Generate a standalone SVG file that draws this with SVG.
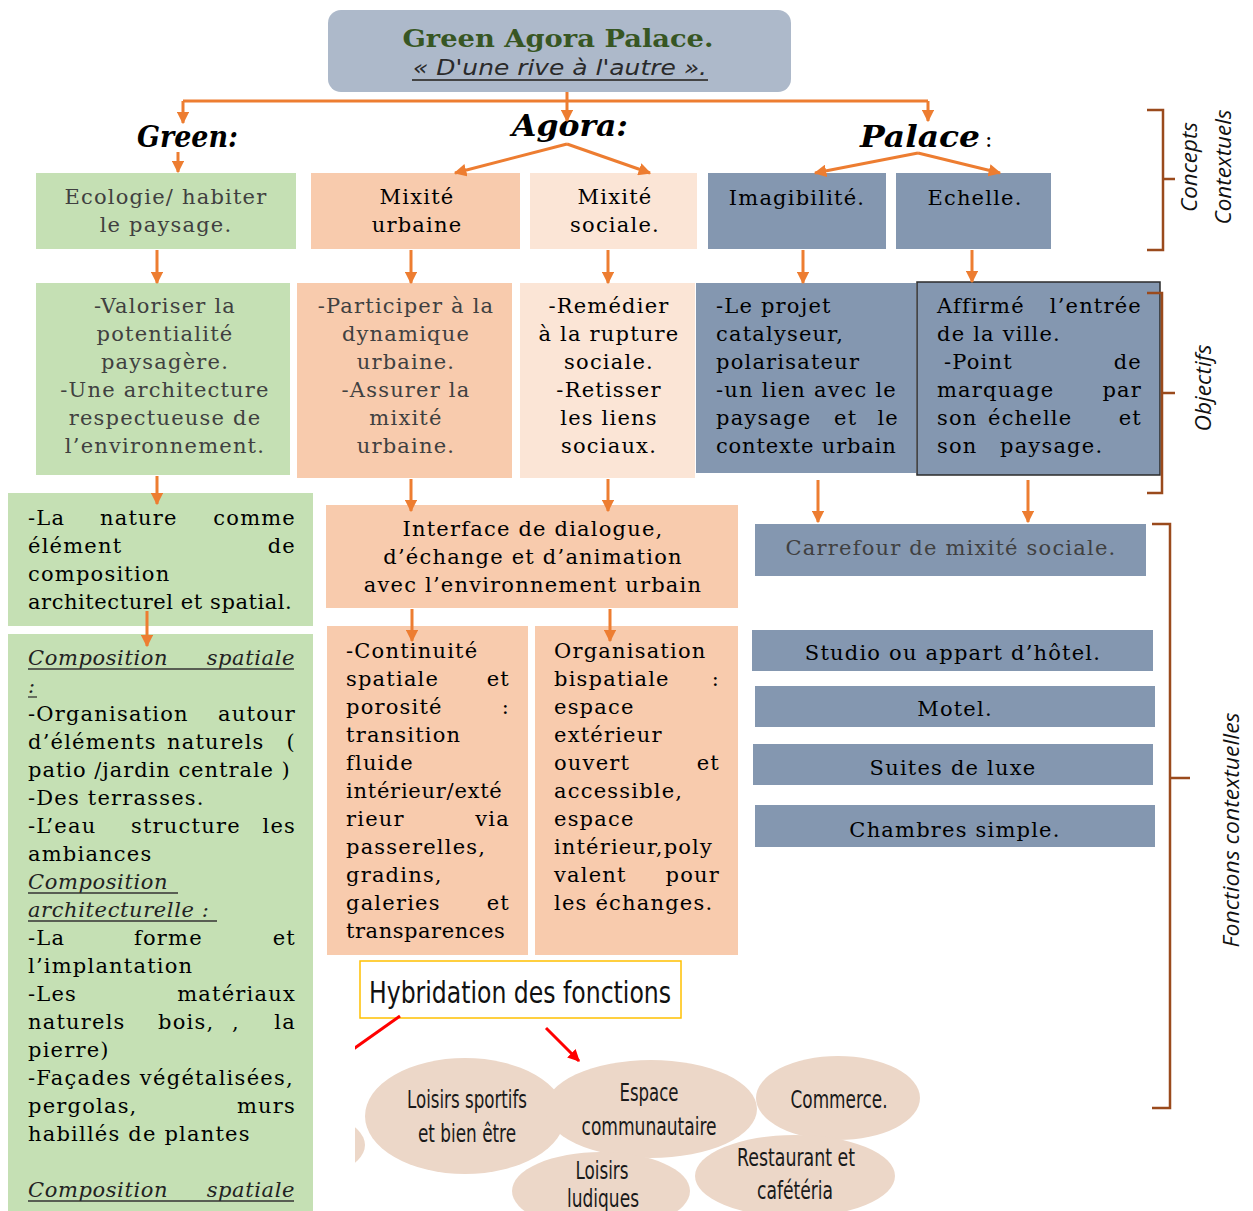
<svg xmlns="http://www.w3.org/2000/svg" width="1253" height="1211" viewBox="0 0 1253 1211">
  <defs>
    <marker id="ah" viewBox="0 0 10 10" refX="9" refY="5" markerWidth="4.2" markerHeight="4.2" orient="auto" markerUnits="strokeWidth">
      <path d="M0,0 L10,5 L0,10 z" fill="#ed7d31"/>
    </marker>
    <marker id="ahr" viewBox="0 0 10 10" refX="9" refY="5" markerWidth="4" markerHeight="4" orient="auto" markerUnits="strokeWidth">
      <path d="M0,0 L10,5 L0,10 z" fill="#ff0000"/>
    </marker>
    <clipPath id="cut">
      <rect x="355" y="950" width="900" height="261"/>
    </clipPath>
  </defs>
  <style>
    .t { font-family: "DejaVu Serif", serif; font-size: 21px; letter-spacing: 1.2px; fill: #000; }
    .gr { fill: #404040; }
    .c { text-anchor: middle; }
    .e { text-anchor: end; }
    .it { font-style: italic; letter-spacing: 0.6px; fill: #222; }
    .ul { stroke: #333; stroke-width: 1.3; }
    .green { fill: #c5e0b4; }
    .peach { fill: #f8cbad; }
    .pale { fill: #fbe5d6; }
    .slate { fill: #8497b0; }
    .conn { stroke: #ed7d31; stroke-width: 3; fill: none; }
    .br { stroke: #9a4a1c; stroke-width: 2.5; fill: none; }
    .side { font-family: "Open Sans", "Noto Sans", sans-serif; font-style: italic; font-size: 22px; fill: #111; }
    .head { font-family: "DejaVu Serif", serif; font-weight: bold; font-style: italic; font-size: 30px; fill: #000; }
    .ell { fill: #ecd7c8; }
    .et { font-family: "DejaVu Sans Condensed", "DejaVu Sans", sans-serif; font-size: 24px; fill: #1a1a1a; text-anchor: middle; }
  </style>

  <!-- title -->
  <g id="title">
    <rect x="328" y="10" width="463" height="82" rx="13" fill="#adb9ca"/>
    <text x="558" y="47" text-anchor="middle" font-family="DejaVu Serif, serif" font-weight="bold" font-size="25" fill="#375623" textLength="311" lengthAdjust="spacingAndGlyphs">Green Agora Palace.</text>
    <text x="560" y="75" text-anchor="middle" font-family="DejaVu Sans, sans-serif" font-style="italic" font-size="21" fill="#2a2a2a" textLength="294" lengthAdjust="spacingAndGlyphs">« D'une rive à l'autre ».</text>
    <line x1="412" y1="80" x2="708" y2="80" stroke="#444" stroke-width="2"/>
  </g>

  <!-- theme headings -->
  <g id="head-green"><text class="head" x="137" y="147" textLength="101" lengthAdjust="spacingAndGlyphs">Green:</text></g>
  <g id="head-agora"><text class="head" x="512" y="136" textLength="116" lengthAdjust="spacingAndGlyphs">Agora:</text></g>
  <g id="head-palace">
    <text class="head" x="860" y="147" textLength="120" lengthAdjust="spacingAndGlyphs">Palace</text>
    <text x="985" y="147" font-family="DejaVu Serif, serif" font-size="22" fill="#000">:</text>
  </g>

  <!-- concepts row -->
  <g id="ecologie">
    <rect class="green" x="36" y="173" width="260" height="76"/>
    <text class="t gr c" x="166" y="204">Ecologie/ habiter</text>
    <text class="t gr c" x="166" y="232">le paysage.</text>
  </g>
  <g id="mixite-urbaine">
    <rect class="peach" x="311" y="173" width="209" height="76"/>
    <text class="t c" x="417" y="204">Mixité</text>
    <text class="t c" x="417" y="232">urbaine</text>
  </g>
  <g id="mixite-sociale">
    <rect class="pale" x="530" y="173" width="167" height="76"/>
    <text class="t c" x="615" y="204">Mixité</text>
    <text class="t c" x="615" y="232">sociale.</text>
  </g>
  <g id="imagibilite">
    <rect class="slate" x="708" y="173" width="178" height="76"/>
    <text class="t c" x="797" y="205">Imagibilité.</text>
  </g>
  <g id="echelle">
    <rect class="slate" x="896" y="173" width="155" height="76"/>
    <text class="t c" x="975" y="205">Echelle.</text>
  </g>

  <!-- objectives row -->
  <g id="obj-green">
    <rect class="green" x="36" y="283" width="254" height="192"/>
    <text class="t gr c" x="165" y="313">-Valoriser la</text>
    <text class="t gr c" x="165" y="341">potentialité</text>
    <text class="t gr c" x="165" y="369">paysagère.</text>
    <text class="t gr c" x="165" y="397">-Une architecture</text>
    <text class="t gr c" x="165" y="425">respectueuse de</text>
    <text class="t gr c" x="165" y="453">l’environnement.</text>
  </g>
  <g id="obj-urbaine">
    <rect class="peach" x="297" y="283" width="215" height="195"/>
    <text class="t gr c" x="406" y="313">-Participer à la</text>
    <text class="t gr c" x="406" y="341">dynamique</text>
    <text class="t gr c" x="406" y="369">urbaine.</text>
    <text class="t gr c" x="406" y="397">-Assurer la</text>
    <text class="t gr c" x="406" y="425">mixité</text>
    <text class="t gr c" x="406" y="453">urbaine.</text>
  </g>
  <g id="obj-sociale">
    <rect class="pale" x="520" y="283" width="175" height="195"/>
    <text class="t c" x="609" y="313">-Remédier</text>
    <text class="t c" x="609" y="341">à la rupture</text>
    <text class="t c" x="609" y="369">sociale.</text>
    <text class="t c" x="609" y="397">-Retisser</text>
    <text class="t c" x="609" y="425">les liens</text>
    <text class="t c" x="609" y="453">sociaux.</text>
  </g>
  <g id="obj-imagibilite">
    <rect class="slate" x="696" y="283" width="220" height="190"/>
    <text class="t" x="716" y="313">-Le projet</text>
    <text class="t" x="716" y="341">catalyseur,</text>
    <text class="t" x="716" y="369">polarisateur</text>
    <text class="t" x="716" y="397" textLength="181" lengthAdjust="spacing">-un lien avec le</text>
    <text class="t" x="716" y="425">paysage</text>
    <text class="t" x="834" y="425">et</text>
    <text class="t e" x="899" y="425">le</text>
    <text class="t" x="716" y="453" textLength="181" lengthAdjust="spacing">contexte urbain</text>
  </g>
  <g id="obj-echelle">
    <rect class="slate" x="917" y="282" width="243" height="193" stroke="#2b2b2b" stroke-width="1.5"/>
    <text class="t" x="937" y="313">Affirmé</text>
    <text class="t e" x="1142" y="313">l’entrée</text>
    <text class="t" x="937" y="341">de la ville.</text>
    <text class="t" x="944" y="369">-Point</text>
    <text class="t e" x="1142" y="369">de</text>
    <text class="t" x="937" y="397">marquage</text>
    <text class="t e" x="1142" y="397">par</text>
    <text class="t" x="937" y="425">son</text>
    <text class="t" x="988" y="425">échelle</text>
    <text class="t e" x="1142" y="425">et</text>
    <text class="t" x="937" y="453">son</text>
    <text class="t" x="1000" y="453">paysage.</text>
  </g>

  <!-- green column, lower part -->
  <g id="nature">
    <rect class="green" x="8" y="493" width="305" height="133"/>
    <text class="t" x="28" y="525">-La</text>
    <text class="t" x="100" y="525">nature</text>
    <text class="t e" x="296" y="525">comme</text>
    <text class="t" x="28" y="553">élément</text>
    <text class="t e" x="296" y="553">de</text>
    <text class="t" x="28" y="581">composition</text>
    <text class="t" x="28" y="609" textLength="265" lengthAdjust="spacing">architecturel et spatial.</text>
  </g>
  <g id="composition">
    <rect class="green" x="8" y="634" width="305" height="580"/>
    <text class="t it" x="28" y="665">Composition</text>
    <text class="t it e" x="295" y="665">spatiale</text>
    <line class="ul" x1="28" y1="669" x2="294" y2="669"/>
    <text class="t it" x="28" y="693">:</text>
    <line class="ul" x1="28" y1="697" x2="37" y2="697"/>
    <text class="t" x="28" y="721">-Organisation</text>
    <text class="t e" x="296" y="721">autour</text>
    <text class="t" x="28" y="749">d’éléments</text>
    <text class="t" x="167" y="749">naturels</text>
    <text class="t e" x="296" y="749">(</text>
    <text class="t" x="28" y="777" textLength="263" lengthAdjust="spacing">patio /jardin centrale )</text>
    <text class="t" x="28" y="805">-Des terrasses.</text>
    <text class="t" x="28" y="833">-L’eau</text>
    <text class="t" x="131" y="833">structure</text>
    <text class="t e" x="296" y="833">les</text>
    <text class="t" x="28" y="861">ambiances</text>
    <text class="t it" x="28" y="889">Composition</text>
    <line class="ul" x1="28" y1="893" x2="178" y2="893"/>
    <text class="t it" x="28" y="917">architecturelle :</text>
    <line class="ul" x1="28" y1="921" x2="217" y2="921"/>
    <text class="t" x="28" y="945">-La</text>
    <text class="t" x="134" y="945">forme</text>
    <text class="t e" x="296" y="945">et</text>
    <text class="t" x="28" y="973">l’implantation</text>
    <text class="t" x="28" y="1001">-Les</text>
    <text class="t e" x="296" y="1001">matériaux</text>
    <text class="t" x="28" y="1029">naturels</text>
    <text class="t" x="158" y="1029">bois,</text>
    <text class="t" x="232" y="1029">,</text>
    <text class="t e" x="296" y="1029">la</text>
    <text class="t" x="28" y="1057">pierre)</text>
    <text class="t" x="28" y="1085" textLength="266" lengthAdjust="spacing">-Façades végétalisées,</text>
    <text class="t" x="28" y="1113">pergolas,</text>
    <text class="t e" x="296" y="1113">murs</text>
    <text class="t" x="28" y="1141">habillés de plantes</text>
    <text class="t it" x="28" y="1197">Composition</text>
    <text class="t it e" x="295" y="1197">spatiale</text>
    <line class="ul" x1="28" y1="1201" x2="294" y2="1201"/>
  </g>

  <!-- agora column, lower part -->
  <g id="interface">
    <rect class="peach" x="326" y="505" width="412" height="103"/>
    <text class="t c" x="533" y="536">Interface de dialogue,</text>
    <text class="t c" x="533" y="564">d’échange et d’animation</text>
    <text class="t c" x="533" y="592">avec l’environnement urbain</text>
  </g>
  <g id="continuite">
    <rect class="peach" x="327" y="626" width="201" height="329"/>
    <text class="t" x="346" y="658">-Continuité</text>
    <text class="t" x="346" y="686">spatiale</text>
    <text class="t e" x="510" y="686">et</text>
    <text class="t" x="346" y="714">porosité</text>
    <text class="t e" x="510" y="714">:</text>
    <text class="t" x="346" y="742">transition</text>
    <text class="t" x="346" y="770">fluide</text>
    <text class="t" x="346" y="798" textLength="157" lengthAdjust="spacing">intérieur/exté</text>
    <text class="t" x="346" y="826">rieur</text>
    <text class="t e" x="510" y="826">via</text>
    <text class="t" x="346" y="854">passerelles,</text>
    <text class="t" x="346" y="882">gradins,</text>
    <text class="t" x="346" y="910">galeries</text>
    <text class="t e" x="510" y="910">et</text>
    <text class="t" x="346" y="938" textLength="160" lengthAdjust="spacing">transparences</text>
  </g>
  <g id="bispatiale">
    <rect class="peach" x="535" y="626" width="203" height="329"/>
    <text class="t" x="554" y="658">Organisation</text>
    <text class="t" x="554" y="686">bispatiale</text>
    <text class="t e" x="720" y="686">:</text>
    <text class="t" x="554" y="714">espace</text>
    <text class="t" x="554" y="742">extérieur</text>
    <text class="t" x="554" y="770">ouvert</text>
    <text class="t e" x="720" y="770">et</text>
    <text class="t" x="554" y="798">accessible,</text>
    <text class="t" x="554" y="826">espace</text>
    <text class="t" x="554" y="854" textLength="159" lengthAdjust="spacing">intérieur,poly</text>
    <text class="t" x="554" y="882">valent</text>
    <text class="t e" x="720" y="882">pour</text>
    <text class="t" x="554" y="910">les échanges.</text>
  </g>

  <!-- palace column, lower part -->
  <g id="carrefour">
    <rect class="slate" x="755" y="524" width="391" height="52"/>
    <text class="t gr c" x="951" y="555">Carrefour de mixité sociale.</text>
  </g>
  <g id="studio">
    <rect class="slate" x="752" y="630" width="401" height="41"/>
    <text class="t c" x="953" y="660">Studio ou appart d’hôtel.</text>
  </g>
  <g id="motel">
    <rect class="slate" x="755" y="686" width="400" height="41"/>
    <text class="t c" x="955" y="716">Motel.</text>
  </g>
  <g id="suites">
    <rect class="slate" x="753" y="744" width="400" height="41"/>
    <text class="t c" x="953" y="775">Suites de luxe</text>
  </g>
  <g id="chambres">
    <rect class="slate" x="755" y="805" width="400" height="42"/>
    <text class="t c" x="955" y="837">Chambres simple.</text>
  </g>

  <!-- connectors -->
  <g id="connectors">
    <path class="conn" d="M183 101 H928"/>
    <path class="conn" d="M567 92 V121" marker-end="url(#ah)"/>
    <path class="conn" d="M183 101 V123" marker-end="url(#ah)"/>
    <path class="conn" d="M928 101 V121" marker-end="url(#ah)"/>
    <path class="conn" d="M178 152 V172" marker-end="url(#ah)"/>
    <path class="conn" d="M567 144 L455 173" marker-end="url(#ah)"/>
    <path class="conn" d="M567 144 L650 173" marker-end="url(#ah)"/>
    <path class="conn" d="M918 153 L815 173" marker-end="url(#ah)"/>
    <path class="conn" d="M918 153 L1000 173" marker-end="url(#ah)"/>
    <path class="conn" d="M157 250 V283" marker-end="url(#ah)"/>
    <path class="conn" d="M411 250 V283" marker-end="url(#ah)"/>
    <path class="conn" d="M608 250 V283" marker-end="url(#ah)"/>
    <path class="conn" d="M803 250 V283" marker-end="url(#ah)"/>
    <path class="conn" d="M972 250 V282" marker-end="url(#ah)"/>
    <path class="conn" d="M157 476 V504" marker-end="url(#ah)"/>
    <path class="conn" d="M411 479 V511" marker-end="url(#ah)"/>
    <path class="conn" d="M608 479 V511" marker-end="url(#ah)"/>
    <path class="conn" d="M818 480 V522" marker-end="url(#ah)"/>
    <path class="conn" d="M1028 480 V522" marker-end="url(#ah)"/>
    <path class="conn" d="M147 611 V646" marker-end="url(#ah)"/>
    <path class="conn" d="M412 609 V641" marker-end="url(#ah)"/>
    <path class="conn" d="M610 609 V641" marker-end="url(#ah)"/>
  </g>

  <!-- brackets and side labels -->
  <g id="bracket-concepts">
    <path class="br" d="M1147 110 H1163 V250 H1147 M1163 179 H1175"/>
    <text class="side" transform="translate(1197,167) rotate(-90)" text-anchor="middle" textLength="90" lengthAdjust="spacingAndGlyphs">Concepts</text>
    <text class="side" transform="translate(1231,167) rotate(-90)" text-anchor="middle" textLength="115" lengthAdjust="spacingAndGlyphs">Contextuels</text>
  </g>
  <g id="bracket-objectifs">
    <path class="br" d="M1147 293 H1162 V493 H1147 M1162 393 H1175"/>
    <text class="side" transform="translate(1211,388) rotate(-90)" text-anchor="middle" textLength="87" lengthAdjust="spacingAndGlyphs">Objectifs</text>
  </g>
  <g id="bracket-fonctions">
    <path class="br" d="M1152 524 H1170 V1108 H1152 M1170 778 H1190"/>
    <text class="side" transform="translate(1239,830) rotate(-90)" text-anchor="middle" textLength="235" lengthAdjust="spacingAndGlyphs">Fonctions contextuelles</text>
  </g>

  <!-- hybrid functions -->
  <g id="hybridation">
    <rect x="360" y="961" width="321" height="57" fill="#fff" stroke="#ffc000" stroke-width="1.5"/>
    <text x="369" y="1003" font-family="DejaVu Sans Condensed, DejaVu Sans, sans-serif" font-size="30" fill="#111" textLength="302" lengthAdjust="spacingAndGlyphs">Hybridation des fonctions</text>
  </g>
  <g id="red-arrows" clip-path="url(#cut)">
    <path d="M400 1016 L352 1050" stroke="#ff0000" stroke-width="3" fill="none"/>
    <path d="M546 1028 L579 1061" stroke="#ff0000" stroke-width="3" fill="none" marker-end="url(#ahr)"/>
  </g>
  <g id="functions" clip-path="url(#cut)">
    <ellipse class="ell" cx="270" cy="1145" rx="95" ry="40"/>
    <ellipse class="ell" cx="465" cy="1116" rx="100" ry="58"/>
    <ellipse class="ell" cx="651" cy="1109" rx="106" ry="49"/>
    <ellipse class="ell" cx="838" cy="1098" rx="82" ry="42"/>
    <ellipse class="ell" cx="795" cy="1176" rx="100" ry="41"/>
    <ellipse class="ell" cx="601" cy="1191" rx="89" ry="39"/>
    <text class="et" x="467" y="1108" textLength="120" lengthAdjust="spacingAndGlyphs">Loisirs sportifs</text>
    <text class="et" x="467" y="1142" textLength="98" lengthAdjust="spacingAndGlyphs">et bien être</text>
    <text class="et" x="649" y="1101" textLength="59" lengthAdjust="spacingAndGlyphs">Espace</text>
    <text class="et" x="649" y="1135" textLength="135" lengthAdjust="spacingAndGlyphs">communautaire</text>
    <text class="et" x="839" y="1108" textLength="97" lengthAdjust="spacingAndGlyphs">Commerce.</text>
    <text class="et" x="796" y="1166" textLength="118" lengthAdjust="spacingAndGlyphs">Restaurant  et</text>
    <text class="et" x="795" y="1199" textLength="76" lengthAdjust="spacingAndGlyphs">cafétéria</text>
    <text class="et" x="602" y="1179" textLength="53" lengthAdjust="spacingAndGlyphs">Loisirs</text>
    <text class="et" x="603" y="1207" textLength="72" lengthAdjust="spacingAndGlyphs">ludiques</text>
  </g>
</svg>
